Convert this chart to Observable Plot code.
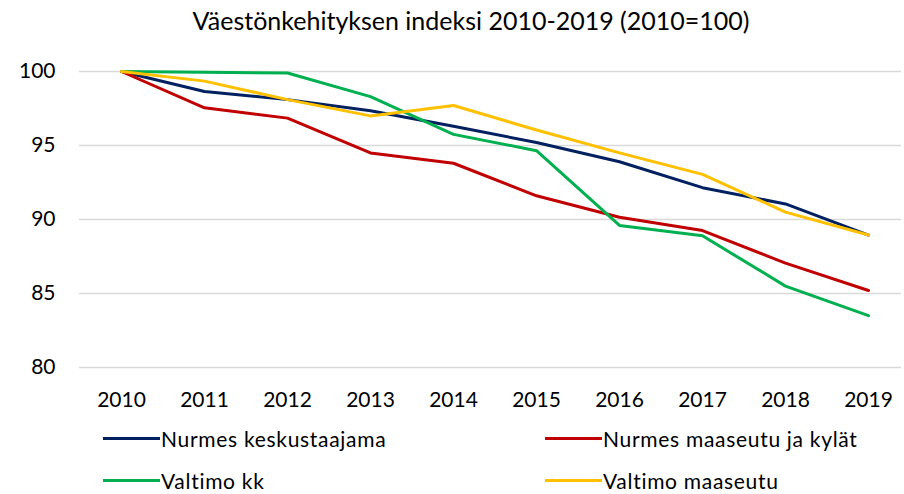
<!DOCTYPE html>
<html>
<head>
<meta charset="utf-8">
<script src="https://cdn.jsdelivr.net/npm/d3@7"></script>
<script src="https://cdn.jsdelivr.net/npm/@observablehq/plot@0.6"></script>
<style>
  body { margin: 0; background: #fff; font-family: Lato, "Open Sans", sans-serif; color: #000; }
  #wrap { width: 904px; position: relative; }
  #title { height: 40px; line-height: 40px; font-size: 25px; text-align: center; width: 942px; white-space: nowrap; }
  #chart svg { display: block; }
  #legend { position: relative; height: 79px; font-size: 21px; letter-spacing: 0.7px; }
  .item { position: absolute; display: flex; align-items: center; height: 30px; white-space: nowrap; }
  .sw { width: 57px; height: 3px; margin-right: 1px; }
</style>
</head>
<body>
<div id="wrap">
  <div id="title">Väestönkehityksen indeksi 2010-2019 (2010=100)</div>
  <div id="chart"></div>
  <div id="legend"></div>
</div>
<script>
const years = [2010, 2011, 2012, 2013, 2014, 2015, 2016, 2017, 2018, 2019];
const seriesNames = ["Nurmes keskustaajama", "Nurmes maaseutu ja kylät", "Valtimo kk", "Valtimo maaseutu"];
const seriesColors = ["#002060", "#C00000", "#00B050", "#FFC000"];
const nurmesKeskusta = [100, 98.65, 98.1, 97.35, 96.3, 95.2, 93.9, 92.15, 91.05, 88.95];
const nurmesMaaseutu = [100, 97.55, 96.85, 94.5, 93.8, 91.6, 90.15, 89.25, 87.05, 85.2];
const valtimoKk = [100, 99.95, 99.9, 98.3, 95.75, 94.65, 89.6, 88.9, 85.5, 83.5];
const valtimoMaaseutu = [100, 99.35, 98.1, 97.0, 97.7, 96.05, 94.5, 93.05, 90.5, 88.95];
const yTicks = [80, 85, 90, 95, 100];

const allValues = [nurmesKeskusta, nurmesMaaseutu, valtimoKk, valtimoMaaseutu];
const data = [];
allValues.forEach((vals, s) => {
  vals.forEach((v, i) => data.push({ series: seriesNames[s], year: years[i], value: v }));
});

const chart = Plot.plot({
  width: 904,
  height: 375,
  marginTop: 31,
  marginBottom: 48,
  marginLeft: 79,
  marginRight: 3,
  style: { fontFamily: "Lato, 'Open Sans', sans-serif", fontSize: "21px", color: "#000", background: "#fff" },
  x: { type: "point", domain: years, range: [120, 868], padding: 0 },
  y: { domain: [80, 100] },
  color: { domain: seriesNames, range: seriesColors },
  marks: [
    Plot.gridY(yTicks, { stroke: "#d9d9d9", strokeOpacity: 1, strokeWidth: 1.5 }),
    Plot.axisY(yTicks, { tickSize: 0, tickPadding: 24, label: null, fontSize: 21 }),
    Plot.axisX(years, { tickSize: 0, tickPadding: 25, label: null, fontSize: 21, tickFormat: d => String(d) }),
    Plot.line(data, { x: "year", y: "value", z: "series", stroke: "series", strokeWidth: 3, strokeLinejoin: "round", strokeLinecap: "round" })
  ]
});
document.getElementById("chart").appendChild(chart);

const legendPos = [[103, 8], [545, 8], [103, 50], [545, 50]];
const legend = document.getElementById("legend");
seriesNames.forEach((name, i) => {
  const it = document.createElement("div");
  it.className = "item";
  it.style.left = legendPos[i][0] + "px";
  it.style.top = legendPos[i][1] + "px";
  const sw = document.createElement("div");
  sw.className = "sw";
  sw.style.background = seriesColors[i];
  const tx = document.createElement("span");
  tx.textContent = name;
  it.appendChild(sw);
  it.appendChild(tx);
  legend.appendChild(it);
});
</script>
</body>
</html>
